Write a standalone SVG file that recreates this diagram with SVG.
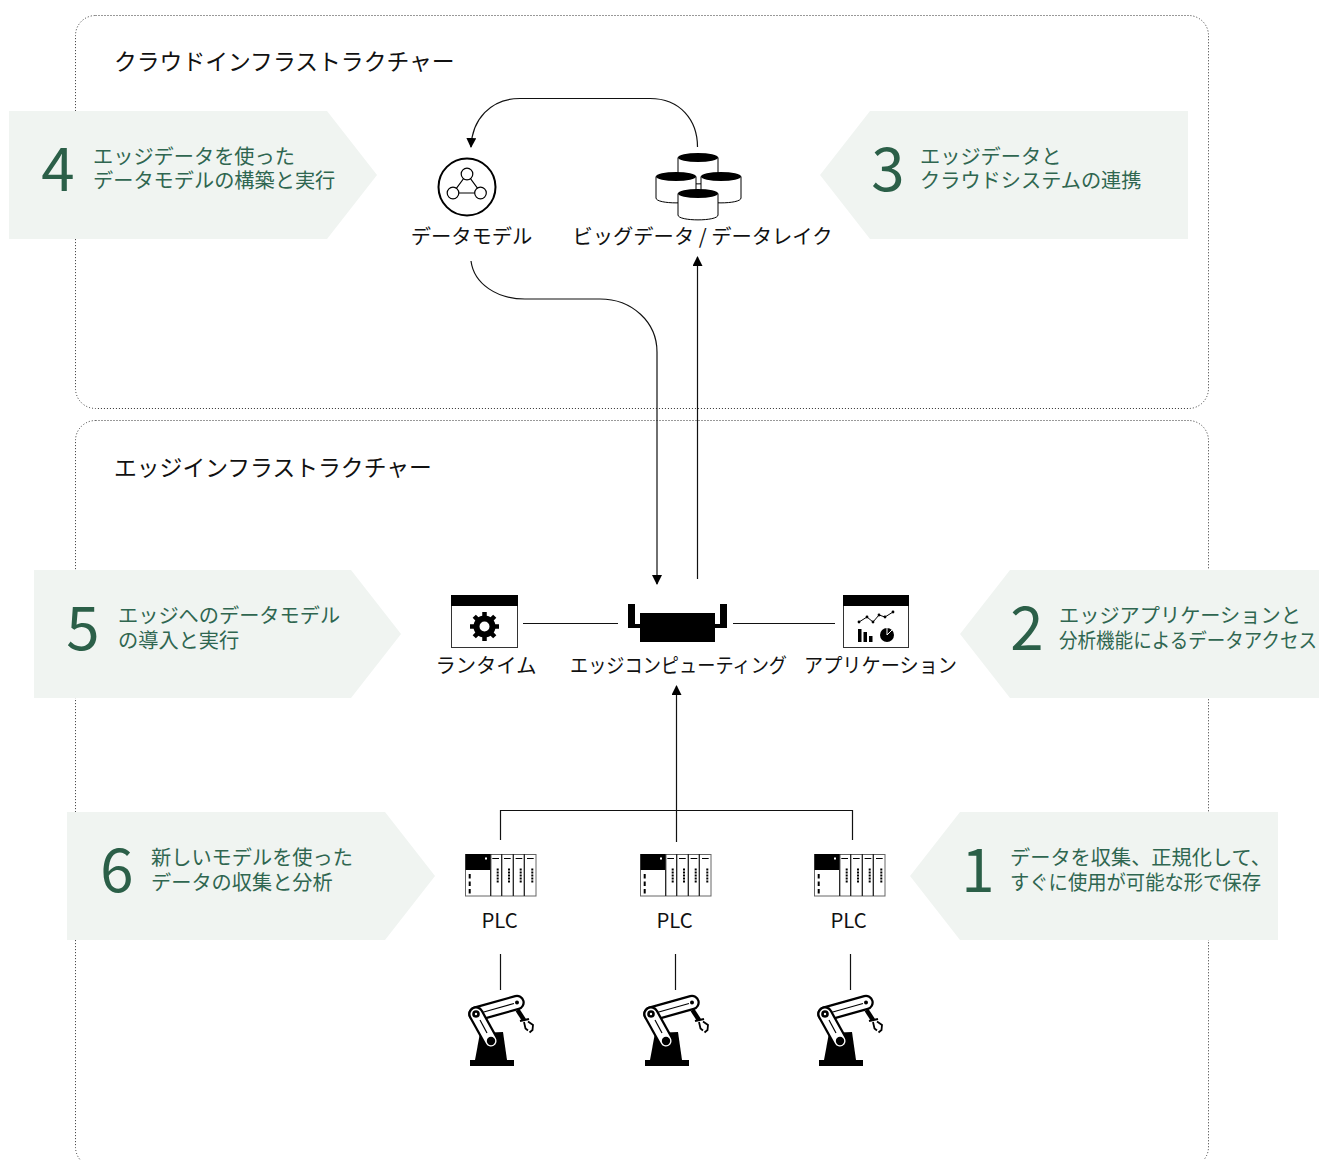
<svg xmlns="http://www.w3.org/2000/svg" width="1319" height="1160" viewBox="0 0 1319 1160">
<style>
text{font-family:"Noto Sans CJK JP","Noto Sans",sans-serif;fill:#111}
.lbl{font-size:20.300px;text-anchor:middle;font-weight:400}
.title{font-size:22.800px;font-weight:400}
.co{font-size:20.200px;fill:#2f6650;font-weight:400}
.num{font-size:60px;fill:#2b5f48;font-weight:400;text-anchor:middle}
.panel{fill:none;stroke:#333;stroke-width:1;stroke-dasharray:1 2}
.callout{fill:#f0f4f1}
.line{fill:none;stroke:#111;stroke-width:1.200}
</style>
<defs>
<marker id="arr" viewBox="0 0 10 10" refX="9" refY="5" markerWidth="10" markerHeight="10" markerUnits="userSpaceOnUse" orient="auto"><path d="M0,0L10,5L0,10z" fill="#000"/></marker>
<g id="plc">
<rect x="0.500" y="0.500" width="70.500" height="41.500" fill="#fff" stroke="#666" stroke-width="1"/>
<rect x="0.500" y="0" width="24.500" height="16" fill="#000"/>
<rect x="20" y="3.500" width="2" height="2" fill="#fff"/>
<path d="M25.700,0V42M36.700,0V42M48.300,0V42M59.300,0V42" stroke="#222" stroke-width="1.300" fill="none"/>
<path d="M27.300,4.500h6.700M39,4.500h6.700M50.600,4.500h6.700M62,4.500h6.700" stroke="#000" stroke-width="1"/>
<path d="M32.700,14.500v14.500M44,14.500v14.500M55.700,14.500v14.500M67.300,14.500v14.500" stroke="#000" stroke-width="2" stroke-dasharray="2 1"/>
<path d="M4.700,20v20" stroke="#000" stroke-width="2" stroke-dasharray="4.500 3"/>
</g>
<g id="robot">
<rect x="0" y="61" width="44" height="6" fill="#000"/>
<path d="M5,61L10,34L33,33L37,61z" fill="#000"/>
<path d="M6,15L47,3.500" stroke="#000" stroke-width="15.500" stroke-linecap="round"/>
<path d="M6,15L47,3.500" stroke="#fff" stroke-width="11" stroke-linecap="round"/>
<path d="M12,13.500L44,4.500" stroke="#000" stroke-width="1.200"/>
<path d="M6,15L21,42" stroke="#000" stroke-width="15.500" stroke-linecap="round"/>
<path d="M6,15L21,42" stroke="#fff" stroke-width="11" stroke-linecap="round"/>
<path d="M10,21L17,34" stroke="#000" stroke-width="1.200"/>
<circle cx="6" cy="15" r="3.800" fill="#000"/><circle cx="6" cy="15" r="1.200" fill="#fff"/>
<circle cx="21" cy="42" r="4.200" fill="#000"/><circle cx="47" cy="3.500" r="2" fill="#000"/>
<path d="M47.500,11L54,21" stroke="#000" stroke-width="4.500"/>
<path d="M50,22L59,20" stroke="#000" stroke-width="2.200"/>
<path d="M54,23L55.500,29.500L58,31.500M58,22.500L63,26L62.500,31L59.500,33.500" fill="none" stroke="#000" stroke-width="1.800"/>
</g>
<g id="cyl">
<path d="M0,4.500V26C0,32.500 40,32.500 40,26V4.500" fill="#fff" stroke="#000" stroke-width="1"/>
<ellipse cx="20" cy="4.500" rx="20" ry="4.500" fill="#000"/>
</g>
</defs>

<g id="panels">
<rect id="cloud-panel" class="panel" x="75.500" y="15.500" width="1133" height="393" rx="20"/>
<rect id="edge-panel" class="panel" x="75.500" y="420.500" width="1133" height="746.500" rx="20"/>
<text class="title" x="114" y="70">クラウドインフラストラクチャー</text>
<text class="title" x="114" y="475.500">エッジインフラストラクチャー</text>
</g>

<g id="connectors">
<path class="line" d="M697.500,147C697.500,120 680,98.500 650,98.500H520C490,98.500 472,120 471,147" marker-end="url(#arr)"/>
<path class="line" d="M471,261C474,284 497,299 525,299H600C632,299 657,322 657,352V584" marker-end="url(#arr)"/>
<path class="line" d="M697.500,579V257" marker-end="url(#arr)"/>
<path class="line" d="M523,623.500H618M733,623.500H835"/>
<path class="line" d="M676.500,842V686" marker-end="url(#arr)"/>
<path class="line" d="M500.500,840V810.500H852.500V840"/>
<path class="line" d="M500.500,954V990M675.500,954V990M850.500,954V990"/>
</g>

<g id="callout-4"><polygon class="callout" points="9,111 327,111 377,175 327,239 9,239"/>
<text class="num" x="58" y="191">4</text>
<text class="co" x="93" y="164">エッジデータを使った</text><text class="co" x="93" y="188">データモデルの構築と実行</text></g>
<g id="callout-3"><polygon class="callout" points="1188,111 870,111 820,175 870,239 1188,239"/>
<text class="num" x="888" y="191">3</text>
<text class="co" x="920" y="164">エッジデータと</text><text class="co" x="920" y="188">クラウドシステムの連携</text></g>
<g id="callout-5"><polygon class="callout" points="34,570 351,570 401,634 351,698 34,698"/>
<text class="num" x="83" y="650">5</text>
<text class="co" x="118" y="623">エッジへのデータモデル</text><text class="co" x="118" y="648">の導入と実行</text></g>
<g id="callout-2"><polygon class="callout" points="1319,570 1010,570 960,634 1010,698 1319,698"/>
<text class="num" x="1027" y="650">2</text>
<text class="co" x="1059" y="623">エッジアプリケーションと</text><text class="co" x="1059" y="648" textLength="258" lengthAdjust="spacingAndGlyphs">分析機能によるデータアクセス</text></g>
<g id="callout-6"><polygon class="callout" points="67,812 385,812 435,876 385,940 67,940"/>
<text class="num" x="117" y="892">6</text>
<text class="co" x="151" y="865">新しいモデルを使った</text><text class="co" x="151" y="890">データの収集と分析</text></g>
<g id="callout-1"><polygon class="callout" points="1278,812 960,812 910,876 960,940 1278,940"/>
<text class="num" x="978" y="892">1</text>
<text class="co" x="1010" y="865">データを収集、正規化して、</text><text class="co" x="1010" y="890" textLength="251" lengthAdjust="spacingAndGlyphs">すぐに使用が可能な形で保存</text></g>

<g id="data-model">
<circle cx="467" cy="187" r="28.500" fill="#fff" stroke="#000" stroke-width="2"/>
<path d="M467,174L453,193H481z" fill="none" stroke="#000" stroke-width="1.200"/>
<circle cx="467" cy="174" r="5.800" fill="#fff" stroke="#000" stroke-width="1.200"/>
<circle cx="453" cy="193" r="5.800" fill="#fff" stroke="#000" stroke-width="1.200"/>
<circle cx="480.500" cy="193" r="5.800" fill="#fff" stroke="#000" stroke-width="1.200"/>
<text class="lbl" x="471.500" y="244">データモデル</text>
</g>
<g id="big-data">
<use href="#cyl" x="678" y="153"/>
<use href="#cyl" x="656" y="172"/>
<use href="#cyl" x="701" y="172"/>
<use href="#cyl" x="678" y="189"/>
<text class="lbl" x="702.500" y="244">ビッグデータ / データレイク</text>
</g>

<g id="runtime">
<rect x="451.500" y="595.500" width="66" height="52" fill="#fff" stroke="#333" stroke-width="1"/>
<rect x="451" y="595" width="67" height="11" fill="#000"/>
<circle cx="484.500" cy="626.500" r="8" fill="none" stroke="#000" stroke-width="6"/>
<path d="M484.500,612V641M470,626.500H499M474.250,616.250L494.750,636.750M474.250,636.750L494.750,616.250" stroke="#000" stroke-width="4.500" stroke-dasharray="4.500 20 4.500"/>
<text class="lbl" x="486" y="672.500">ランタイム</text>
</g>
<g id="edge-computing">
<path d="M628,604h7v20h5v4h-12zM727,604h-7v20h-5v4h12z" fill="#000"/>
<rect x="640" y="613" width="75" height="29" fill="#000"/>
<text class="lbl" x="678.500" y="672.500" textLength="217" lengthAdjust="spacingAndGlyphs">エッジコンピューティング</text>
</g>
<g id="application">
<rect x="843.500" y="595.500" width="65" height="52" fill="#fff" stroke="#333" stroke-width="1"/>
<rect x="843" y="595" width="66" height="11" fill="#000"/>
<path d="M859,622L867,617L873,622L879,615L885,617L893,612" fill="none" stroke="#000" stroke-width="1"/>
<g fill="#000"><circle cx="859" cy="622" r="1.400"/><circle cx="867" cy="617" r="1.400"/><circle cx="873" cy="622" r="1.400"/><circle cx="879" cy="615" r="1.400"/><circle cx="885" cy="617" r="1.400"/><circle cx="893" cy="612" r="1.400"/>
<rect x="858" y="629" width="3.500" height="13"/><rect x="863.500" y="632" width="3.500" height="10"/><rect x="869" y="636" width="3.500" height="6"/>
<circle cx="887" cy="635" r="7"/></g>
<path d="M887,635V628M887,635L892,630" stroke="#fff" stroke-width="1"/>
<text class="lbl" x="880.500" y="672.500" textLength="153" lengthAdjust="spacingAndGlyphs">アプリケーション</text>
</g>

<g id="plc-1"><use href="#plc" x="465" y="854"/><text class="lbl" x="499.500" y="928">PLC</text></g>
<g id="plc-2"><use href="#plc" x="640" y="854"/><text class="lbl" x="674.500" y="928">PLC</text></g>
<g id="plc-3"><use href="#plc" x="814" y="854"/><text class="lbl" x="848.500" y="928">PLC</text></g>
<g id="robot-1"><use href="#robot" x="470" y="999"/></g>
<g id="robot-2"><use href="#robot" x="645" y="999"/></g>
<g id="robot-3"><use href="#robot" x="819" y="999"/></g>
</svg>
